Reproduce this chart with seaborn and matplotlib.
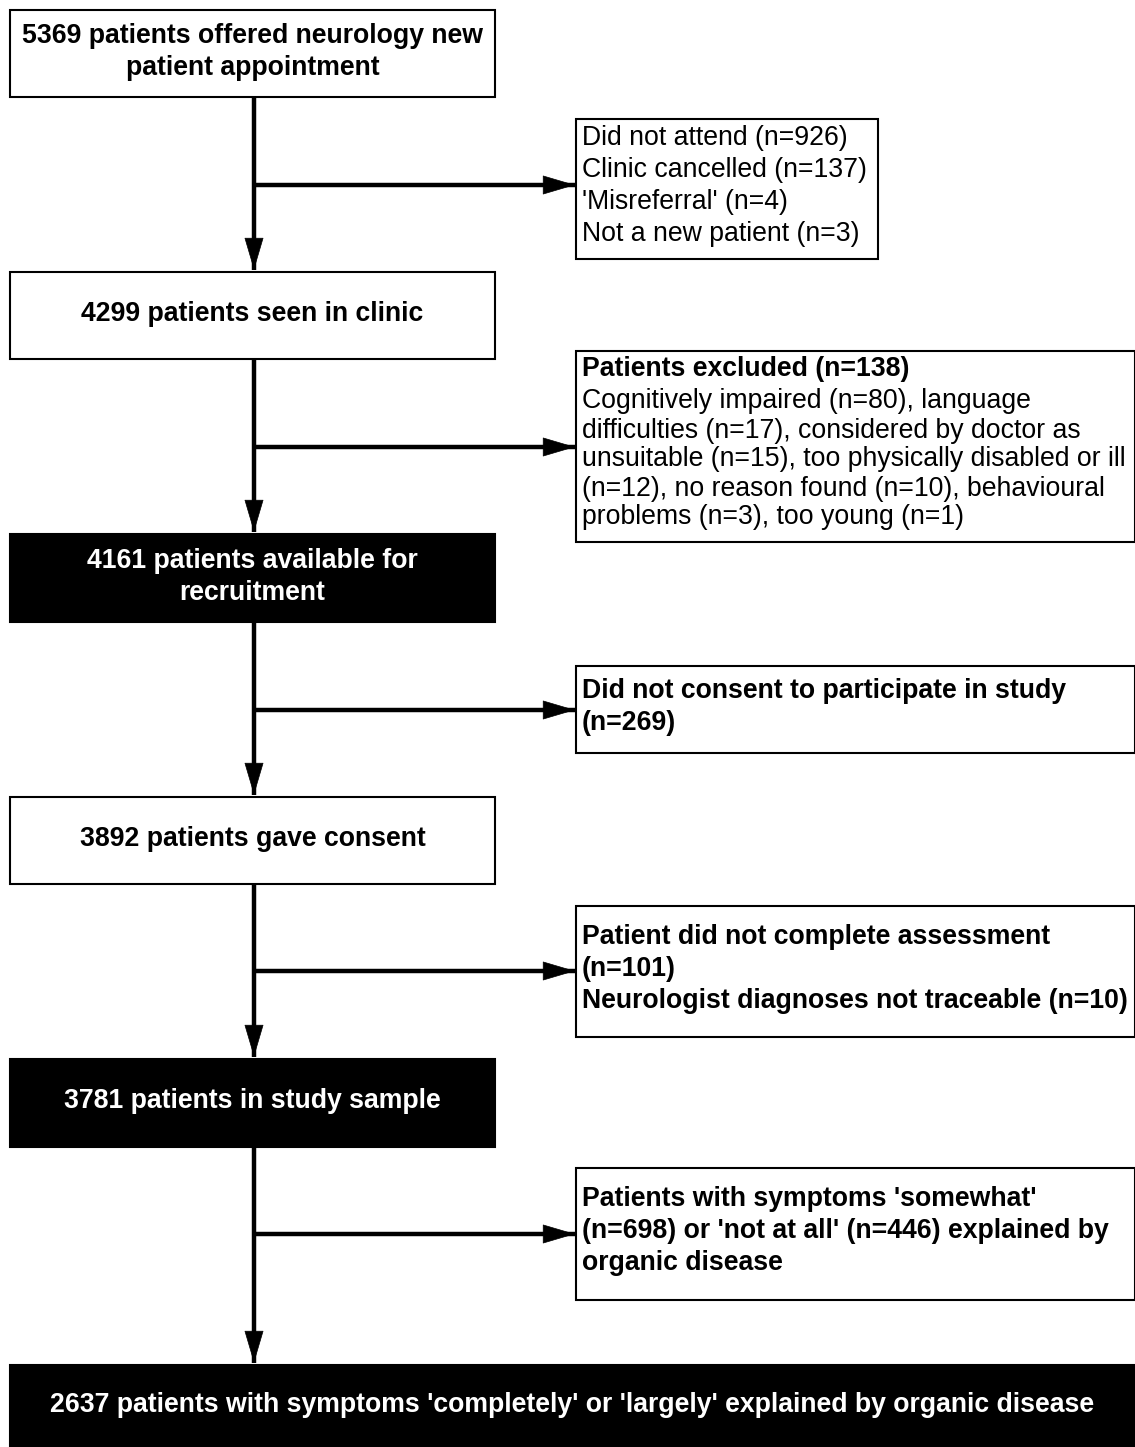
import seaborn as sns
from matplotlib import pyplot as plt
from matplotlib.patches import Rectangle

sns.set_style("white")
plt.rcParams['font.family'] = ['Liberation Sans', 'DejaVu Sans']

# main flow boxes
main_labels = [
    ["5369 patients offered neurology new", "patient appointment"],
    ["4299 patients seen in clinic"],
    ["4161 patients available for", "recruitment"],
    ["3892 patients gave consent"],
    ["3781 patients in study sample"],
    ["2637 patients with symptoms 'completely' or 'largely' explained by organic disease"],
]
main_dark = [False, False, True, False, True, True]
main_top = [10, 272, 534, 797, 1059, 1365]
main_bottom = [97, 359, 622, 884, 1147, 1447]

# side boxes: bold header lines, then normal body lines
side_header = [
    [],
    ["Patients excluded (n=138)"],
    ["Did not consent to participate in study", "(n=269)"],
    ["Patient did not complete assessment", "(n=101)", "Neurologist diagnoses not traceable (n=10)"],
    ["Patients with symptoms 'somewhat'", "(n=698) or 'not at all' (n=446) explained by", "organic disease"],
]
side_body = [
    ["Did not attend (n=926)", "Clinic cancelled (n=137)", "'Misreferral' (n=4)", "Not a new patient (n=3)"],
    ["Cognitively impaired (n=80), language", "difficulties (n=17), considered by doctor as",
     "unsuitable (n=15), too physically disabled or ill", "(n=12), no reason found (n=10), behavioural",
     "problems (n=3), too young (n=1)"],
    [],
    [],
    [],
]
side_top = [119, 351, 666, 906, 1168]
side_bottom = [259, 542, 753, 1037, 1300]
side_right = [878, 1135, 1135, 1135, 1135]
side_arrow_y = [185, 447, 710, 971, 1234]

W, H = 1135, 1447
fig = plt.figure(figsize=(W / 100, H / 100), dpi=100)
ax = fig.add_axes([0, 0, 1, 1])
ax.set_xlim(0, W)
ax.set_ylim(H, 0)
ax.axis('off')

fs = 19.2
main_left, main_right = 10, 495
cx = 254
side_left = 576
lw = 3.2
head = dict(arrowstyle='-|>,head_length=2.2,head_width=0.65',
            color='black', lw=0.5, shrinkA=0, shrinkB=0)


def arrow(x0, y0, x1, y1):
    # shaft, then a sharp head ending on the target box
    ax.plot([x0, x1], [y0, y1], color='black', lw=lw, solid_capstyle='butt', zorder=1)
    ax.annotate('', xy=(x1, y1), xytext=(x0, y0), arrowprops=head, zorder=1)


for i, lines in enumerate(main_labels):
    top, bot = main_top[i], main_bottom[i]
    right = W if i == len(main_labels) - 1 else main_right
    dark = main_dark[i]
    ax.add_patch(Rectangle((main_left, top), right - main_left, bot - top,
                           facecolor='black' if dark else 'white',
                           edgecolor='black', linewidth=1.5, zorder=2))
    mid = (top + bot) / 2
    n = len(lines)
    for k, line in enumerate(lines):
        y = mid + (k - (n - 1) / 2) * 32 - 1.5
        ax.text((main_left + right) / 2, y, line, ha='center', va='center',
                fontsize=fs, fontweight='bold',
                color='white' if dark else 'black', zorder=3)

# vertical arrows between main boxes
for i in range(len(main_labels) - 1):
    arrow(cx, main_bottom[i], cx, main_top[i + 1] - 2)

for j in range(len(side_top)):
    top, bot = side_top[j], side_bottom[j]
    ax.add_patch(Rectangle((side_left, top), side_right[j] - side_left, bot - top,
                           facecolor='white', edgecolor='black', linewidth=1.5, zorder=2))
    arrow(cx, side_arrow_y[j], side_left - 1, side_arrow_y[j])
    items = [(t, 'bold', 32) for t in side_header[j]]
    for k, t in enumerate(side_body[j]):
        step = 29 if (side_header[j] and k > 0) else 32
        items.append((t, 'normal', step))
    total = sum(it[2] for it in items[1:])
    y = (top + bot) / 2 - total / 2 - 3
    for k, (t, wgt, step) in enumerate(items):
        if k > 0:
            y += step
        ax.text(side_left + 6, y, t, ha='left', va='center', fontsize=fs,
                fontweight=wgt, color='black', zorder=3)

fig.savefig('out.png', dpi=100, facecolor='white')
